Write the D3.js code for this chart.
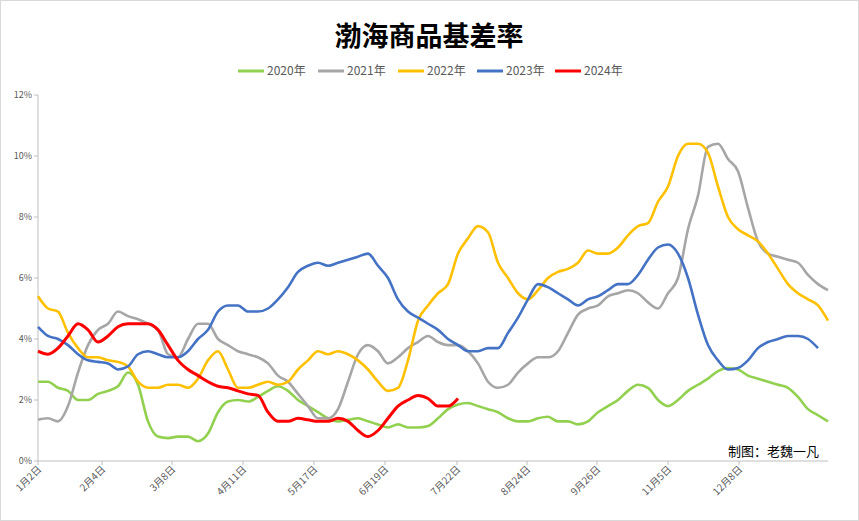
<!DOCTYPE html>
<html><head><meta charset="utf-8">
<script src="https://cdn.jsdelivr.net/npm/d3@7"></script>
<style>body{margin:0;background:#fff;font-family:"Noto Sans CJK SC","Noto Sans",sans-serif;}</style>
</head><body><svg id="chart" width="859" height="521"></svg>
<script>
// sampled every step along the year
const tickLabels = ["1月2日","2月4日","3月8日","4月11日","5月17日","6月19日","7月22日","8月24日","9月26日","11月5日","12月8日"];
const tickIndex = [0,6.4,13.4,20.5,27.6,34.7,41.9,48.9,55.9,63.0,70.1];
const years = ["2020年","2021年","2022年","2023年","2024年"];
const colors = ["#92d050","#a6a6a6","#ffc000","#4472c4","#ff0000"];
const s2020 = [2.6,2.6,2.4,2.3,2.0,2.0,2.2,2.3,2.45,2.9,2.5,1.3,0.8,0.75,0.8,0.8,0.65,0.9,1.6,1.95,2.0,1.95,2.1,2.3,2.45,2.3,2.0,1.8,1.6,1.4,1.3,1.35,1.4,1.3,1.2,1.1,1.2,1.1,1.1,1.15,1.4,1.7,1.85,1.9,1.8,1.7,1.6,1.4,1.3,1.3,1.4,1.45,1.3,1.3,1.2,1.3,1.6,1.8,2.0,2.3,2.5,2.4,2.0,1.8,2.0,2.3,2.5,2.7,2.95,3.05,3.0,2.8,2.7,2.6,2.5,2.4,2.1,1.7,1.5,1.3];
const s2021 = [1.35,1.4,1.3,1.8,2.9,3.8,4.3,4.5,4.9,4.75,4.65,4.5,4.3,3.5,3.4,4.0,4.5,4.5,4.0,3.8,3.6,3.5,3.4,3.2,2.8,2.6,2.2,1.8,1.4,1.4,1.7,2.6,3.5,3.8,3.6,3.2,3.4,3.7,3.9,4.1,3.9,3.8,3.8,3.6,3.2,2.6,2.4,2.5,2.9,3.2,3.4,3.4,3.6,4.2,4.8,5.0,5.1,5.4,5.5,5.6,5.5,5.2,5.0,5.5,6.0,7.6,8.7,10.3,10.4,9.9,9.5,8.3,7.2,6.8,6.7,6.6,6.5,6.1,5.8,5.6];
const s2022 = [5.4,5.0,4.9,4.2,3.7,3.4,3.4,3.3,3.25,3.1,2.6,2.4,2.4,2.5,2.5,2.4,2.7,3.3,3.6,3.0,2.4,2.4,2.5,2.6,2.5,2.6,3.0,3.3,3.6,3.5,3.6,3.5,3.3,3.0,2.6,2.3,2.4,3.3,4.6,5.1,5.5,5.8,6.8,7.3,7.7,7.5,6.5,6.0,5.5,5.3,5.6,6.0,6.2,6.3,6.5,6.9,6.8,6.8,7.0,7.4,7.7,7.8,8.5,9.0,10.0,10.4,10.4,10.1,9.0,8.0,7.6,7.4,7.2,6.8,6.3,5.8,5.5,5.3,5.1,4.6];
const s2023 = [4.4,4.1,4.0,3.8,3.5,3.3,3.25,3.2,3.0,3.1,3.5,3.6,3.5,3.4,3.4,3.6,4.0,4.3,4.9,5.1,5.1,4.9,4.9,5.0,5.3,5.7,6.2,6.4,6.5,6.4,6.5,6.6,6.7,6.8,6.4,6.0,5.3,4.9,4.7,4.5,4.3,4.0,3.8,3.6,3.6,3.7,3.7,4.2,4.7,5.3,5.8,5.7,5.5,5.3,5.1,5.3,5.4,5.6,5.8,5.8,6.1,6.6,7.0,7.1,6.8,6.0,4.8,3.8,3.3,3.0,3.05,3.3,3.7,3.9,4.0,4.1,4.1,4.0,3.7];
const s2024 = [3.6,3.5,3.7,4.1,4.5,4.3,3.9,4.1,4.4,4.5,4.5,4.5,4.3,3.8,3.3,3.0,2.8,2.6,2.45,2.4,2.3,2.2,2.15,1.6,1.3,1.3,1.4,1.35,1.3,1.3,1.4,1.3,1.0,0.8,1.0,1.4,1.8,2.0,2.15,2.05,1.8,1.8,2.05];
const series = [s2020,s2021,s2022,s2023,s2024];
const yTicks = [0,2,4,6,8,10,12];

const svg = d3.select("#chart");
svg.append("rect").attr("x",0.5).attr("y",0.5).attr("width",858).attr("height",520)
   .attr("fill","#fff").attr("stroke","#d9d9d9");

const x = d3.scaleLinear().domain([0,79]).range([38,828]);
const y = d3.scaleLinear().domain([0,12]).range([461,95]);

svg.append("text").attr("x",429).attr("y",46).attr("text-anchor","middle")
   .attr("font-size",27).attr("font-weight","bold").attr("fill","#000").text("渤海商品基差率");

// legend
const lg = svg.append("g").attr("font-size",12).attr("fill","#595959");
const lx = [238,318,398,477,555];
years.forEach((t,i)=>{
  lg.append("line").attr("x1",lx[i]).attr("x2",lx[i]+26).attr("y1",71).attr("y2",71)
    .attr("stroke",colors[i]).attr("stroke-width",3);
  lg.append("text").attr("x",lx[i]+29).attr("y",75).text(t);
});

// y axis
svg.append("line").attr("x1",38).attr("x2",38).attr("y1",95).attr("y2",461).attr("stroke","#bfbfbf");
yTicks.forEach(v=>{
  svg.append("line").attr("x1",34).attr("x2",38).attr("y1",y(v)).attr("y2",y(v)).attr("stroke","#bfbfbf");
  svg.append("text").attr("x",32).attr("y",y(v)+3).attr("text-anchor","end")
     .attr("font-size",9).attr("fill","#595959").text(v+"%");
});
// x axis
svg.append("line").attr("x1",38).attr("x2",828).attr("y1",461).attr("y2",461).attr("stroke","#bfbfbf");
tickIndex.forEach((v,i)=>{
  svg.append("line").attr("x1",x(v)).attr("x2",x(v)).attr("y1",461).attr("y2",465).attr("stroke","#bfbfbf");
  svg.append("text").attr("transform",`translate(${x(v)+4},${470}) rotate(-45)`)
     .attr("text-anchor","end").attr("font-size",10).attr("fill","#595959").text(tickLabels[i]);
});

const line = d3.line().x((d,i)=>x(i)).y(d=>y(d)).curve(d3.curveMonotoneX);
series.forEach((s,i)=>{
  svg.append("path").datum(s).attr("d",line).attr("fill","none")
     .attr("stroke",colors[i]).attr("stroke-width",i==4?3:2.6).attr("stroke-linejoin","round");
});

svg.append("text").attr("x",728).attr("y",456).attr("font-size",13).attr("fill","#000").text("制图：老魏一凡");
</script></body></html>
